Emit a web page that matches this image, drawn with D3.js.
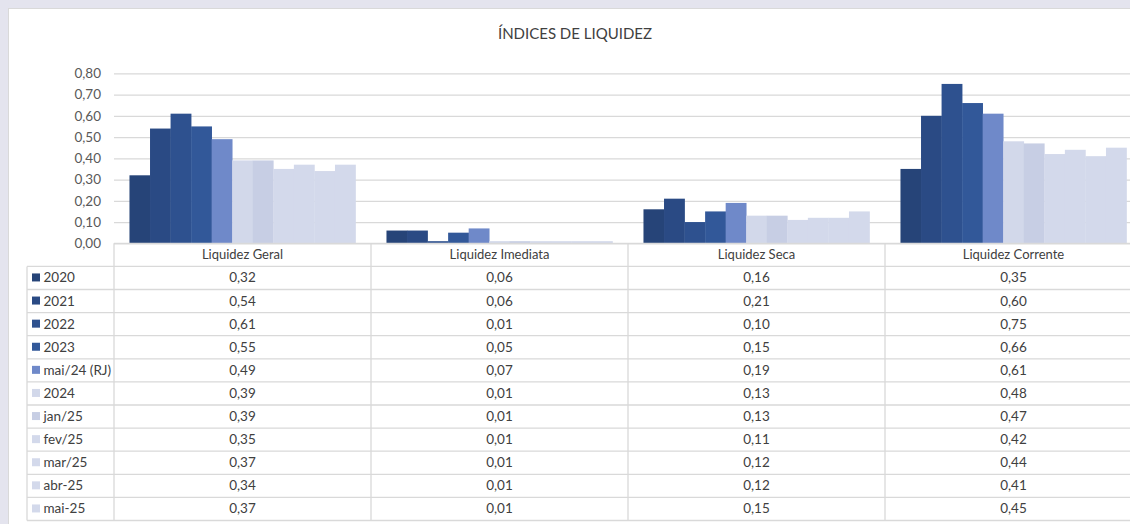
<!DOCTYPE html>
<html>

<head>
  <meta charset="utf-8">
  <title>Índices de Liquidez</title>
  <script src="https://cdn.jsdelivr.net/npm/d3@7"></script>
  <style>
    body { margin: 0; background: #e4e4ee; }
    svg { display: block; }
    text { font-family: Lato, "Liberation Sans", sans-serif; }
  </style>
</head>

<body>
  <svg width="1130" height="524" id="mainsvg"></svg>
  <script>
    const categories = ['Liquidez Geral', 'Liquidez Imediata', 'Liquidez Seca', 'Liquidez Corrente'];
    const seriesNames = ['2020', '2021', '2022', '2023', 'mai/24 (RJ)', '2024', 'jan/25', 'fev/25', 'mar/25', 'abr-25', 'mai-25'];
    const liquidezGeral = [0.32, 0.54, 0.61, 0.55, 0.49, 0.39, 0.39, 0.35, 0.37, 0.34, 0.37];
    const liquidezImediata = [0.06, 0.06, 0.01, 0.05, 0.07, 0.01, 0.01, 0.01, 0.01, 0.01, 0.01];
    const liquidezSeca = [0.16, 0.21, 0.10, 0.15, 0.19, 0.13, 0.13, 0.11, 0.12, 0.12, 0.15];
    const liquidezCorrente = [0.35, 0.60, 0.75, 0.66, 0.61, 0.48, 0.47, 0.42, 0.44, 0.41, 0.45];
    const yTicks = [0, 0.1, 0.2, 0.3, 0.4, 0.5, 0.6, 0.7, 0.8];

    const colors = ['#264478', '#2a4a84', '#2e518f', '#325899', '#6f89c9',
      '#d2d8ea', '#c7cee4', '#d3d9eb', '#d3d9eb', '#d3d9eb', '#d3d9eb'];

    const valuesByCat = [liquidezGeral, liquidezImediata, liquidezSeca, liquidezCorrente];

    const svg = d3.select('#mainsvg');
    const width = +svg.attr('width');
    const height = +svg.attr('height');

    const plot = { left: 114, right: 1142, top: 73.3, bottom: 243.3 };
    const rowH = 23.1;
    const legendLeft = 27;

    const ptBR = d3.formatLocale({ decimal: ',', thousands: '.', grouping: [3], currency: ['R$', ''] });
    const fmt = ptBR.format('.2f');

    // white chart box
    svg.append('rect')
      .attr('x', 8.5).attr('y', 8.5)
      .attr('width', width).attr('height', height)
      .attr('fill', '#ffffff')
      .attr('stroke', '#d9d9d9');

    svg.append('text')
      .attr('x', 575).attr('y', 39)
      .attr('text-anchor', 'middle')
      .attr('font-size', '15px')
      .attr('fill', '#404040')
      .text('ÍNDICES DE LIQUIDEZ');

    const xScale = d3.scaleBand()
      .domain(categories)
      .range([plot.left, plot.right]);

    const xInner = d3.scaleBand()
      .domain(seriesNames)
      .range([0, xScale.bandwidth()])
      .paddingOuter(0.753);

    const yScale = d3.scaleLinear()
      .domain([0, 0.8])
      .range([plot.bottom, plot.top]);

    // gridlines + y labels
    const yAxis = d3.axisLeft(yScale)
      .tickValues(yTicks)
      .tickFormat(fmt)
      .tickSize(-(plot.right - plot.left))
      .tickPadding(13);
    const yAxisGroup = svg.append('g')
      .attr('transform', `translate(${plot.left}, 0)`)
      .call(yAxis);
    yAxisGroup.select('.domain').remove();
    yAxisGroup.selectAll('.tick line').attr('stroke', '#d9d9d9').attr('stroke-width', 1.3);
    yAxisGroup.selectAll('.tick text').attr('font-size', '13.5px').attr('fill', '#595959')
      .attr('font-family', 'Lato, sans-serif');

    // bars
    const catGroups = svg.selectAll('.cat').data(categories).enter().append('g')
      .attr('class', 'cat')
      .attr('transform', d => `translate(${xScale(d)}, 0)`);

    catGroups.selectAll('rect')
      .data((d, i) => valuesByCat[i].map((v, j) => ({ name: seriesNames[j], value: v, idx: j })))
      .enter().append('rect')
      .attr('x', d => xInner(d.name))
      .attr('y', d => yScale(d.value))
      .attr('width', xInner.bandwidth() + 0.3)
      .attr('height', d => yScale(0) - yScale(d.value))
      .attr('fill', d => colors[d.idx]);

    // data table
    const table = svg.append('g').attr('class', 'table');
    const lineColor = '#d9d9d9';
    const tableTop = plot.bottom;
    const tableBottom = tableTop + rowH * (seriesNames.length + 1);

    // horizontal lines
    table.append('line')
      .attr('x1', plot.left).attr('x2', plot.right)
      .attr('y1', tableTop).attr('y2', tableTop)
      .attr('stroke', lineColor).attr('stroke-width', 1.3);
    d3.range(1, seriesNames.length + 2).forEach(r => {
      const y = tableTop + rowH * r;
      table.append('line')
        .attr('x1', legendLeft).attr('x2', plot.right)
        .attr('y1', y).attr('y2', y)
        .attr('stroke', lineColor).attr('stroke-width', 1.3);
    });

    // vertical lines
    table.append('line')
      .attr('x1', legendLeft).attr('x2', legendLeft)
      .attr('y1', tableTop + rowH).attr('y2', tableBottom)
      .attr('stroke', lineColor).attr('stroke-width', 1.3);
    categories.forEach(c => {
      table.append('line')
        .attr('x1', xScale(c)).attr('x2', xScale(c))
        .attr('y1', tableTop).attr('y2', tableBottom)
        .attr('stroke', lineColor).attr('stroke-width', 1.3);
    });

    // header
    table.selectAll('.head').data(categories).enter().append('text')
      .attr('class', 'head')
      .attr('x', d => xScale(d) + xScale.bandwidth() / 2)
      .attr('y', tableTop + rowH / 2 + 4.5)
      .attr('text-anchor', 'middle')
      .attr('font-size', '13px')
      .attr('fill', '#404040')
      .text(d => d);

    // rows
    seriesNames.forEach((name, j) => {
      const yMid = tableTop + rowH * (j + 1.5);
      table.append('rect')
        .attr('x', 32).attr('y', yMid - 4.5)
        .attr('width', 8).attr('height', 8)
        .attr('fill', colors[j]);
      table.append('text')
        .attr('x', 43.5).attr('y', yMid + 4.5)
        .attr('font-size', '13.5px')
        .attr('fill', '#404040')
        .text(name);
      categories.forEach((c, i) => {
        table.append('text')
          .attr('x', xScale(c) + xScale.bandwidth() / 2)
          .attr('y', yMid + 4.5)
          .attr('text-anchor', 'middle')
          .attr('font-size', '13.5px')
          .attr('fill', '#404040')
          .text(fmt(valuesByCat[i][j]));
      });
    });
  </script>
</body>

</html>
